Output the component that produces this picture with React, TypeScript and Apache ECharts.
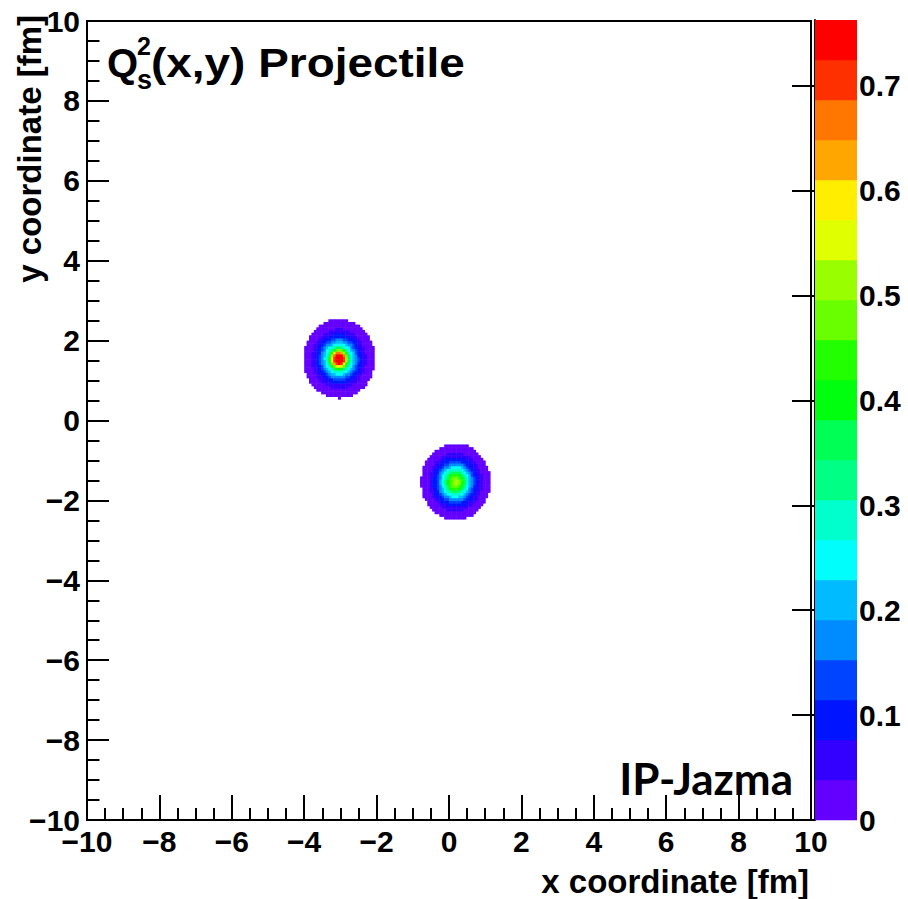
import React, { useEffect, useRef } from "react";
import * as echarts from "echarts";

// ---- data ----
const xRange = [-10, 10];
const yRange = [-10, 10];
const axisInterval = 2;
// histogram bin size (fm)
const binSize = 20 / 300;
// blob centres (fm)
const blobCenterX = [-3.04, 0.18];
const blobCenterY = [1.55, -1.53];
// outer radius (fm) of each contour band k (k = 0 .. n)
const leftBlobRingRadii = [0.985, 0.755, 0.635, 0.545, 0.49, 0.435, 0.395, 0.345, 0.31, 0.29, 0.27, 0.25, 0.235, 0.22, 0.205, 0.19, 0.178, 0.165, 0.15, 0.12];
const rightBlobRingRadii = [0.955, 0.74, 0.63, 0.53, 0.48, 0.42, 0.385, 0.335, 0.295, 0.26, 0.225, 0.19, 0.14, 0.07];
const blobRings = [leftBlobRingRadii, rightBlobRingRadii];
// colour scale
const colorbarMax = 0.7627;
const nContours = 20;
const palette = ["#6300ff", "#3300ff", "#0014ff", "#0044ff", "#008bff", "#00bbff", "#00fffc", "#00ffcc", "#00ff85", "#00ff55", "#00ff0e", "#22ff00", "#69ff00", "#99ff00", "#e0ff00", "#ffee00", "#ffa700", "#ff7700", "#ff3000", "#ff0000"];
const colorbarTicks = [0, 0.1, 0.2, 0.3, 0.4, 0.5, 0.6, 0.7];
const xTitle = "x coordinate [fm]";
const yTitle = "y coordinate [fm]";
const cornerLabel = "IP-Jazma";

const bandWidth = colorbarMax / nContours;

function buildCells(): number[][] {
  const cells: number[][] = [];
  for (let b = 0; b < blobCenterX.length; b++) {
    const cx = blobCenterX[b];
    const cy = blobCenterY[b];
    const rings = blobRings[b];
    const R = rings[0];
    const i0 = Math.floor((cx - R - xRange[0]) / binSize) - 1;
    const i1 = Math.ceil((cx + R - xRange[0]) / binSize) + 1;
    const j0 = Math.floor((cy - R - yRange[0]) / binSize) - 1;
    const j1 = Math.ceil((cy + R - yRange[0]) / binSize) + 1;
    for (let i = i0; i <= i1; i++) {
      for (let j = j0; j <= j1; j++) {
        const x = xRange[0] + (i + 0.5) * binSize;
        const y = yRange[0] + (j + 0.5) * binSize;
        const r = Math.hypot(x - cx, y - cy);
        if (r > R) continue;
        let band = 0;
        for (let k = rings.length - 1; k >= 0; k--) {
          if (r <= rings[k]) {
            band = k;
            break;
          }
        }
        cells.push([x, y, (band + 0.5) * bandWidth]);
      }
    }
  }
  return cells;
}

const FONT = "'Liberation Sans', Arial, Helvetica, sans-serif";
const minus = (v: number) => String(v).replace("-", "\u2212");

export default function App() {
  const ref = useRef<HTMLDivElement>(null);

  useEffect(() => {
    if (!ref.current) return;
    const chart = echarts.init(ref.current, null, { renderer: "svg" });
    const cells = buildCells();
    const bandData = palette.map((_, k) => [0.5, (k + 0.5) * bandWidth, k]);

    const option: any = {
      animation: false,
      backgroundColor: "#ffffff",
      grid: [
        { left: 87, top: 21, width: 724, height: 799, show: true, borderColor: "#000", borderWidth: 2, backgroundColor: "transparent", outerBoundsMode: "none" },
        { left: 815, top: 20, width: 42, height: 800, show: false, outerBoundsMode: "none" },
      ],
      xAxis: [
        {
          type: "value",
          gridIndex: 0,
          min: xRange[0],
          max: xRange[1],
          interval: axisInterval,
          axisLine: { show: true, onZero: false, lineStyle: { color: "#000", width: 2 } },
          axisTick: { show: true, inside: true, length: 25, lineStyle: { color: "#000", width: 2 } },
          minorTick: { show: true, splitNumber: 4, length: 12, lineStyle: { color: "#000", width: 2 } },
          splitLine: { show: false },
          axisLabel: { show: true, color: "#000", fontSize: 30, fontWeight: "bold", fontFamily: FONT, margin: 6, formatter: minus },
        },
        { type: "value", gridIndex: 1, min: 0, max: 1, show: false },
      ],
      yAxis: [
        {
          type: "value",
          gridIndex: 0,
          min: yRange[0],
          max: yRange[1],
          interval: axisInterval,
          axisLine: { show: true, onZero: false, lineStyle: { color: "#000", width: 2 } },
          axisTick: { show: true, inside: true, length: 22, lineStyle: { color: "#000", width: 2 } },
          minorTick: { show: true, splitNumber: 4, length: 12.5, lineStyle: { color: "#000", width: 2 } },
          splitLine: { show: false },
          axisLabel: { show: true, color: "#000", fontSize: 30, fontWeight: "bold", fontFamily: FONT, margin: 7, formatter: minus },
        },
        {
          type: "value",
          gridIndex: 1,
          position: "right",
          min: 0,
          max: colorbarMax,
          axisLine: { show: true, lineStyle: { color: "#000", width: 2 } },
          axisTick: { show: true, inside: true, length: 23, lineStyle: { color: "#000", width: 2 }, customValues: colorbarTicks },
          splitLine: { show: false },
          axisLabel: { show: true, color: "#000", fontSize: 30, fontWeight: "bold", fontFamily: FONT, margin: 2, customValues: colorbarTicks, formatter: (v: number) => String(v) },
        },
      ],
      series: [
        {
          type: "custom",
          xAxisIndex: 0,
          yAxisIndex: 0,
          data: cells,
          encode: { x: 0, y: 1 },
          clip: true,
          renderItem: (params: any, api: any) => {
            const x = api.value(0);
            const y = api.value(1);
            const v = api.value(2);
            const p0 = api.coord([x - binSize / 2, y + binSize / 2]);
            const p1 = api.coord([x + binSize / 2, y - binSize / 2]);
            const k = Math.max(0, Math.min(nContours - 1, Math.floor(v / bandWidth)));
            return {
              type: "rect",
              shape: { x: p0[0], y: p0[1], width: p1[0] - p0[0] + 0.5, height: p1[1] - p0[1] + 0.5 },
              style: { fill: palette[k], stroke: null },
            };
          },
        },
        {
          type: "custom",
          xAxisIndex: 1,
          yAxisIndex: 1,
          data: bandData,
          encode: { x: 0, y: 1 },
          renderItem: (params: any, api: any) => {
            const k = api.value(2);
            const p0 = api.coord([0, (k + 1) * bandWidth]);
            const p1 = api.coord([1, k * bandWidth]);
            return {
              type: "rect",
              shape: { x: p0[0], y: p0[1], width: p1[0] - p0[0], height: p1[1] - p0[1] + 0.3 },
              style: { fill: palette[k], stroke: null },
            };
          },
        },
      ],
      graphic: [
        { type: "text", x: 107, y: 63, style: { text: "Q", fontSize: 40, fontWeight: "bold", fontFamily: FONT, fill: "#000", align: "left", verticalAlign: "middle" } },
        { type: "text", x: 137, y: 46, style: { text: "2", fontSize: 25, fontWeight: "bold", fontFamily: FONT, fill: "#000", align: "left", verticalAlign: "middle" } },
        { type: "text", x: 137, y: 80, style: { text: "s", fontSize: 27, fontWeight: "bold", fontFamily: FONT, fill: "#000", align: "left", verticalAlign: "middle" } },
        { type: "text", x: 151, y: 63, scaleX: 1.12, style: { text: "(x,y) Projectile", fontSize: 41, fontWeight: "bold", fontFamily: FONT, fill: "#000", align: "left", verticalAlign: "middle" } },
        { type: "text", x: 809, y: 881.5, style: { text: xTitle, fontSize: 33, fontWeight: "bold", fontFamily: FONT, fill: "#000", align: "right", verticalAlign: "middle" } },
        { type: "text", x: 29.6, y: 15, rotation: Math.PI / 2, style: { text: yTitle, fontSize: 33, fontWeight: "bold", fontFamily: FONT, fill: "#000", align: "right", verticalAlign: "middle" } },
        { type: "text", x: 793, y: 778, style: { text: cornerLabel, fontSize: 44, fontWeight: "bold", fontFamily: "Lato, 'Open Sans', sans-serif", fill: "#000", align: "right", verticalAlign: "middle" } },
        { type: "rect", z: 100, shape: { x: 902, y: 40, width: 6, height: 820 }, style: { fill: "#ffffff" } },
      ],
    };
    chart.setOption(option);
    return () => chart.dispose();
  }, []);

  return <div ref={ref} style={{ position: "absolute", left: 0, top: 0, width: 908, height: 899 }} />;
}
